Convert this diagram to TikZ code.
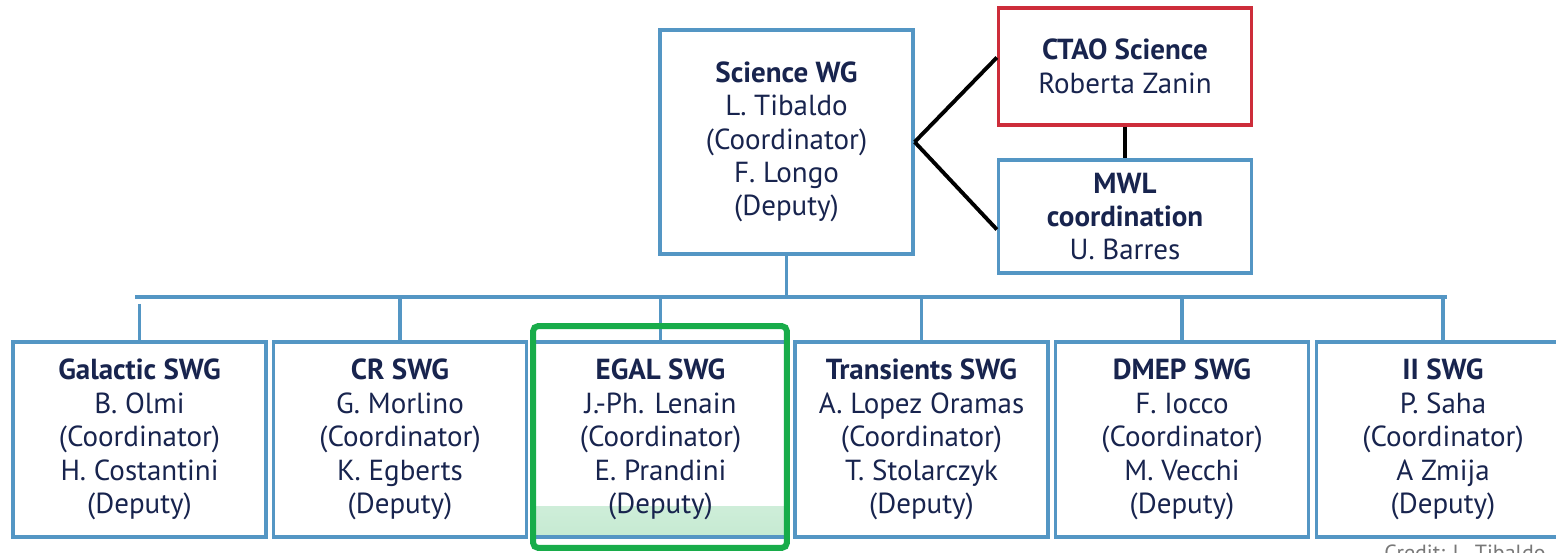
\documentclass[tikz,border=0pt]{standalone}
\usepackage{fontspec}
\setsansfont{PT Sans}
\usetikzlibrary{positioning}
\definecolor{wgcol}    {RGB}{84,150,196}
\definecolor{ctaocol}  {RGB}{205,45,58}
\definecolor{egalcol}  {RGB}{24,172,74}
\definecolor{namecol}  {RGB}{24,36,78}
\definecolor{creditcol}{RGB}{120,120,120}

\begin{document}
\begin{tikzpicture}[x=0.02cm, y=-0.02cm,
    font=\sffamily\fontsize{16.5}{19}\selectfont,
    wgbox/.style={draw=wgcol, line width=1.9pt, fill=white, text=namecol,
        align=center, inner sep=0pt, minimum width=5.06cm},
    swgbox/.style={wgbox, minimum height=3.9cm},
    bus/.style={draw=wgcol, line width=1.9pt},
    link/.style={draw=black, line width=2.2pt}]

\useasboundingbox (0,0) rectangle (1556,553);
\clip (0,0) rectangle (1556,553);

% ================================================================
% TOP LEVEL --- Science WG with CTAO and MWL
% ================================================================
\node[wgbox, minimum height=4.48cm] (sci) at (786.5,142)
    {\textbf{Science WG}\\L. Tibaldo\\(Coordinator)\\F. Longo\\(Deputy)};

\node[wgbox, draw=ctaocol, minimum height=2.34cm] (ctao) at (1125,66.5)
    {\textbf{CTAO Science}\\Roberta Zanin};

\node[wgbox, minimum height=2.26cm] (mwl) at (1125,216.5)
    {\textbf{MWL}\\\textbf{coordination}\\U. Barres};

\draw[link] (sci.east) -- ([yshift=0.18cm]ctao.west);
\draw[link] (sci.east) -- ([yshift=-0.26cm]mwl.west);
\draw[link] (ctao.south) -- (mwl.north);

% ================================================================
% SUB-WORKING GROUPS --- bottom row
% ================================================================
\node[swgbox] (gal) at (139.5,439.5)
    {\textbf{Galactic SWG}\\B. Olmi\\(Coordinator)\\H. Costantini\\(Deputy)};

\node[swgbox] (cr) at (400,439.5)
    {\textbf{CR SWG}\\G. Morlino\\(Coordinator)\\K. Egberts\\(Deputy)};

\node[swgbox, path picture={
        \shade[top color=white, bottom color=egalcol!25]
            ([yshift=0.6cm]path picture bounding box.south west)
            rectangle (path picture bounding box.south east);}] (egal) at (660.5,439.5)
    {\textbf{EGAL SWG}\\J.-Ph. Lenain\\(Coordinator)\\E. Prandini\\(Deputy)};

\node[swgbox] (trans) at (921.5,439.5)
    {\textbf{Transients SWG}\\A. Lopez Oramas\\(Coordinator)\\T. Stolarczyk\\(Deputy)};

\node[swgbox] (dmep) at (1182,439.5)
    {\textbf{DMEP SWG}\\F. Iocco\\(Coordinator)\\M. Vecchi\\(Deputy)};

\node[swgbox] (ii) at (1443,439.5)
    {\textbf{II SWG}\\P. Saha\\(Coordinator)\\A Zmija\\(Deputy)};

% bus bar between the two levels
\coordinate (busL) at (135,297);
\coordinate (busR) at (1447,297);
\coordinate (galtop) at (139.5,304);

\draw[bus] (busL) -- (busR);
\draw[bus] (sci.south) -- (sci.south |- busL);
\draw[bus] (galtop) -- (gal.north);
\draw[bus] (cr.north |- busL) -- (cr.north);
\draw[bus] (egal.north |- busL) -- (egal.north);
\draw[bus] (trans.north |- busL) -- (trans.north);
\draw[bus] (dmep.north |- busL) -- (dmep.north);
\draw[bus] (ii.north |- busL) -- (ii.north);

% highlight round EGAL
\node[draw=egalcol, line width=3.4pt, rounded corners=3pt, inner sep=0pt,
    minimum width=5.08cm, minimum height=4.44cm] (egalmark) at (660,437) {};

% credit line, cut by the page edge
\node[anchor=north west, text=creditcol, inner sep=0pt,
    font=\sffamily\fontsize{12.5}{15}\selectfont] (credit) at (1384,545)
    {Credit: L. Tibaldo};

\end{tikzpicture}
\end{document}
